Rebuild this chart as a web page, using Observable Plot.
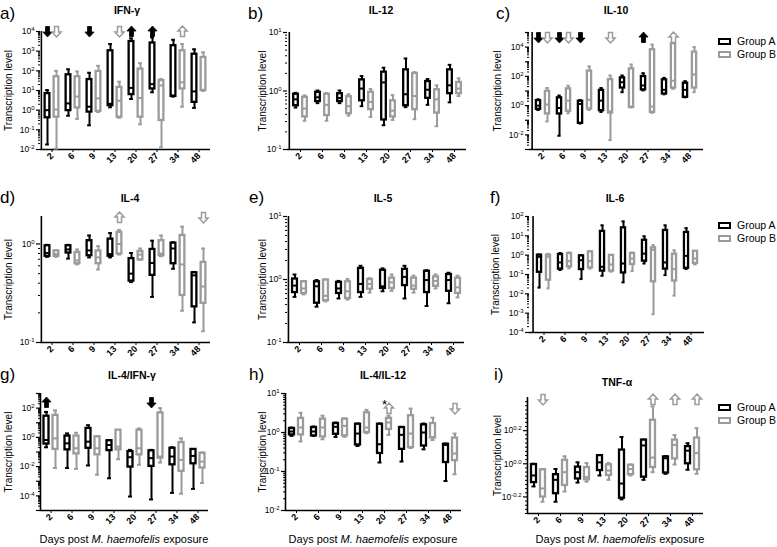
<!DOCTYPE html>
<html><head><meta charset="utf-8">
<script src="https://cdn.jsdelivr.net/npm/d3@7"></script>
<script src="https://cdn.jsdelivr.net/npm/@observablehq/plot@0.6"></script>
<style>
body{margin:0;background:#fff;}
#fig{position:relative;width:777px;height:547px;font-family:"Liberation Sans",Arial,sans-serif;overflow:hidden;background:#fff;color:#000}
#fig svg{position:absolute}
.title{position:absolute;font-weight:bold;font-size:10.5px;line-height:12px;transform:translate(-50%,-50%);white-space:nowrap}
.letter{position:absolute;font-size:17px;line-height:17px}
.leg{position:absolute;font-size:10.5px;line-height:12px;white-space:nowrap}
.leg span.sw{display:inline-block;width:9px;height:3px;border:2.5px solid #000;vertical-align:middle;margin-right:6px;position:relative;top:-1px}
.xt{position:absolute;font-size:11px;line-height:12px;transform:translate(-50%,-50%);white-space:nowrap}
</style></head>
<body><div id="fig"></div>
<script>
// ---------- data: [low whisker, Q1, median, Q3, high whisker] per day ----------
const days = [2, 6, 9, 13, 20, 27, 34, 48];

const ifngA = [[0.018,0.41,1.0,7.0,10.5],[0.52,0.95,2.2,63,120],[0.17,0.80,1.5,36,80],[1.4,1.7,2.1,1050,2300],[3.7,6.2,13.5,3100,4500],[8.1,12,21,2600,5000],[4.9,5.0,5.5,1900,3800],[1.3,2.5,9,700,1250]];
const ifngB = [[0.011,0.44,1.07,50,100],[0.36,1.3,4.9,50,93],[0.8,0.87,4.0,93,180],[0.41,0.44,3.0,14.5,28],[0.19,0.44,4.2,123,245],[0.013,0.30,18,32,38],[1.5,12,26,1050,2300],[9.5,10,10.7,480,870]];
const ifngArrows = [{day:2,group:"A",dir:"down"},{day:2,group:"B",dir:"down"},{day:9,group:"A",dir:"down"},{day:13,group:"B",dir:"down"},{day:20,group:"A",dir:"up"},{day:27,group:"A",dir:"up"},{day:34,group:"B",dir:"up"}];

const il12A = [[0.52,0.56,0.72,0.88,0.93],[0.62,0.66,0.78,0.95,1.02],[0.62,0.66,0.76,0.90,1.02],[0.55,0.68,1.1,1.55,1.8],[0.26,0.32,1.4,2.1,2.5],[0.53,0.56,0.88,2.3,3.6],[0.58,0.75,1.05,1.45,1.6],[0.64,0.90,1.25,2.3,2.8]];
const il12B = [[0.31,0.36,0.50,0.78,0.84],[0.31,0.38,0.58,0.88,0.92],[0.38,0.41,0.55,0.80,0.88],[0.36,0.48,0.65,0.95,1.08],[0.32,0.36,0.46,0.68,0.85],[0.33,0.48,0.82,2.0,2.1],[0.25,0.42,0.72,1.05,1.25],[0.82,0.90,1.1,1.4,1.65]];
const il12Arrows = [];

const il10A = [[0.5,0.56,1.0,2.2,2.7],[0.0087,0.27,0.69,3.4,4.9],[0.06,0.062,1.3,2.0,2.4],[0.37,0.45,2.2,11,16],[8.3,16,40,79,115],[11,12,24,98,165],[6.0,6.3,12,58,79],[3.7,3.7,12,34,47]];
const il10B = [[0.083,0.27,1.2,9.6,16],[0.3,0.41,2.2,14,23],[0.5,0.59,2.5,230,480],[0.0044,0.31,0.41,60,115],[0.75,0.75,0.85,330,650],[0.32,0.35,0.85,6600,15000],[14,16,50,17000,80000],[8.3,16,135,4600,10000]];
const il10Arrows = [{day:2,group:"A",dir:"down"},{day:2,group:"B",dir:"down"},{day:6,group:"A",dir:"down"},{day:6,group:"B",dir:"down"},{day:9,group:"A",dir:"down"},{day:13,group:"B",dir:"down"},{day:27,group:"A",dir:"up"},{day:34,group:"B",dir:"up"}];

const il4A = [[0.74,0.75,0.81,0.96,0.98],[0.71,0.81,0.88,0.96,0.98],[0.73,0.76,0.86,1.08,1.22],[0.73,0.75,0.79,1.12,1.29],[0.41,0.42,0.50,0.71,0.81],[0.29,0.48,0.64,0.88,1.08],[0.56,0.63,0.9,1.02,1.04],[0.16,0.23,0.48,0.51,0.52]];
const il4B = [[0.74,0.75,0.79,0.85,0.86],[0.62,0.63,0.68,0.82,0.88],[0.55,0.63,0.73,0.85,0.95],[0.78,0.79,1.0,1.31,1.39],[0.69,0.69,0.78,0.84,0.90],[0.75,0.76,0.80,1.08,1.22],[0.21,0.30,0.62,1.22,1.5],[0.13,0.25,0.37,0.65,0.90]];
const il4Arrows = [{day:13,group:"B",dir:"up"},{day:48,group:"B",dir:"down"}];

const il5A = [[0.53,0.62,0.80,1.02,1.2],[0.37,0.42,0.78,0.92,0.98],[0.50,0.60,0.72,0.90,0.95],[0.53,0.62,0.85,1.5,1.65],[0.65,0.72,0.78,1.4,1.5],[0.50,0.80,1.1,1.45,1.65],[0.38,0.62,0.98,1.35,1.4],[0.42,0.65,0.98,1.2,1.28]];
const il5B = [[0.58,0.60,0.72,0.92,0.95],[0.45,0.46,0.55,0.98,1.0],[0.48,0.50,0.65,0.92,1.02],[0.62,0.70,0.85,1.0,1.05],[0.66,0.72,0.90,1.05,1.2],[0.62,0.70,0.80,1.05,1.15],[0.72,0.78,0.95,1.10,1.2],[0.52,0.60,0.75,1.05,1.15]];
const il5Arrows = [];

const il6A = [[0.021,0.13,0.82,1.0,1.08],[0.17,0.19,0.42,1.08,1.3],[0.058,0.18,0.55,0.92,1.0],[0.086,0.15,0.25,17,35],[0.039,0.12,0.37,26,56],[0.37,0.49,1.2,5.9,9.5],[0.093,0.19,0.42,19,35],[0.19,0.21,0.92,15,25]];
const il6B = [[0.019,0.051,0.82,1.0,1.17],[0.21,0.25,0.49,1.22,1.37],[0.2,0.22,0.49,1.48,1.6],[0.14,0.15,0.33,0.98,1.0],[0.15,0.33,0.67,1.22,1.37],[0.00088,0.042,1.9,2.4,3.3],[0.0081,0.046,0.19,1.13,1.8],[0.33,0.37,0.67,1.6,1.6]];
const il6Arrows = [];

const ratioIfnA = [[0.21,0.35,0.66,28,55],[0.008,0.14,0.39,1.23,1.86],[0.012,0.18,0.51,4.1,6.8],[0.0016,0.125,0.3,0.59,0.66],[0.00009,0.0093,0.044,0.107,0.14],[0.000057,0.0104,0.038,0.12,0.14],[0.00016,0.0133,0.049,0.18,0.21],[0.0003,0.0156,0.054,0.15,0.15]];
const ratioIfnB = [[0.008,0.15,0.85,32,70],[0.007,0.074,0.18,1.23,2.07],[0.0028,0.064,0.18,1.1,1.23],[0.032,0.14,0.23,3.1,3.1],[0.0134,0.064,0.18,3.1,4.1],[0.019,0.038,0.049,47,100],[0.00014,0.0048,0.029,0.44,0.86],[0.00076,0.008,0.022,0.082,0.092]];
const ratioIfnArrows = [{day:2,group:"A",dir:"up"},{day:27,group:"A",dir:"down"}];

const ratioIl12A = [[0.82,0.87,1.06,1.27,1.34],[0.82,0.82,1.06,1.34,1.43],[0.77,0.9,1.4,1.7,1.8],[0.45,0.48,0.94,1.63,1.7],[0.17,0.29,0.50,1.63,1.7],[0.18,0.37,0.87,1.34,1.4],[0.37,0.45,1.0,1.57,1.7],[0.057,0.17,0.48,0.50,0.52]];
const ratioIl12B = [[0.59,0.87,1.34,2.3,3.2],[0.67,0.77,1.34,2.2,2.7],[0.77,0.82,1.48,2.2,2.3],[0.96,1.0,1.34,3.2,3.8],[0.87,1.2,1.8,2.3,2.7],[0.40,0.41,0.94,2.7,4.1],[0.64,0.72,0.77,1.7,2.4],[0.085,0.19,0.29,0.72,0.94]];
const ratioIl12Arrows = [{day:20,group:"B",dir:"up"},{day:48,group:"B",dir:"down"}];
const ratioIl12Stars = [{day:20}];

const tnfA = [[0.73,0.77,0.85,0.99,1.0],[0.59,0.66,0.80,0.86,0.93],[0.77,0.81,0.89,0.955,1.02],[0.85,0.91,1.02,1.12,1.13],[0.61,0.62,0.76,1.21,1.45],[0.80,0.83,1.29,1.39,1.40],[0.87,0.88,1.08,1.10,1.11],[0.92,1.0,1.2,1.27,1.33]];
const tnfB = [[0.59,0.63,0.71,0.92,0.93],[0.68,0.74,0.89,1.05,1.11],[0.78,0.80,0.83,0.95,1.01],[0.80,0.85,0.91,0.985,1.01],[0.85,0.86,0.93,0.98,0.99],[0.89,0.95,1.09,1.83,2.22],[0.99,1.07,1.30,1.39,1.49],[0.87,0.92,1.16,1.43,1.64]];
const tnfArrows = [{day:2,group:"B",dir:"down"},{day:27,group:"B",dir:"up"},{day:34,group:"B",dir:"up"},{day:48,group:"B",dir:"up"}];

// y tick exponents (all ticks) and labelled exponents
const ticksA = [-2,-1,0,1,2,3,4], labelsA = [-2,-1,0,1,2,3,4];
const ticksB = [-1,0,1], labelsB = [-1,0,1];
const ticksC = [-3,-2,-1,0,1,2,3,4,5], labelsC = [-2,0,2,4];
const ticksD = [-1,0], labelsD = [-1,0];
const ticksE = [-1,0,1], labelsE = [-1,0,1];
const ticksF = [-4,-3,-2,-1,0,1,2], labelsF = [-4,-3,-2,-1,0,1,2];
const ticksG = [-5,-4,-3,-2,-1,0,1,2,3], labelsG = [-4,-2,0,2];
const ticksH = [-2,-1,0,1], labelsH = [-2,-1,0,1];
const ticksI = [-0.2,0,0.2], labelsI = [-0.2,0,0.2];

const titles = ["IFN-γ","IL-12","IL-10","IL-4","IL-5","IL-6","IL-4/IFN-γ","IL-4/IL-12","TNF-α"];
const letters = ["a)","b)","c)","d)","e)","f)","g)","h)","i)"];
const groups = ["Group A","Group B"];
const yLabel = "Transcription level";

// ---------- layout ----------
const BLACK = "#000", GRAY = "#9b9b9b";
const layout = [
 {A:ifngA,B:ifngB,arr:ifngArrows,t:ticksA,l:labelsA,dom:[1e-2,1e4],x0:40,x1:210,y0:31,y1:149,ady:0,ylx:-32,lx:0,ly:14,tx:127,ty:10},
 {A:il12A,B:il12B,arr:il12Arrows,t:ticksB,l:labelsB,dom:[0.1,10],x0:287,x1:466,y0:32,y1:149,ady:0,ylx:-25,lx:248,ly:14,tx:381,ty:10},
 {A:il10A,B:il10B,arr:il10Arrows,t:ticksC,l:labelsC,dom:[1e-3,1e5],x0:529,x1:703,y0:32,y1:149,ady:5,ylx:-32,lx:496,ly:14,tx:616,ty:10,leg:41},
 {A:il4A,B:il4B,arr:il4Arrows,t:ticksD,l:labelsD,dom:[0.1,1.9],x0:40,x1:210,y0:216,y1:342,ady:1,ylx:-32,lx:0,ly:198,tx:130,ty:198},
 {A:il5A,B:il5B,arr:il5Arrows,t:ticksE,l:labelsE,dom:[0.1,10],x0:287,x1:464,y0:216,y1:342,ady:0,ylx:-25,lx:249,ly:198,tx:383,ty:198},
 {A:il6A,B:il6B,arr:il6Arrows,t:ticksF,l:labelsF,dom:[1e-4,1e2],x0:529,x1:704,y0:216,y1:332,ady:0,ylx:-34,lx:490,ly:198,tx:615,ty:198,leg:225},
 {A:ratioIfnA,B:ratioIfnB,arr:ratioIfnArrows,t:ticksG,l:labelsG,dom:[1e-5,1e3],x0:40,x1:208,y0:393,y1:510,ady:9,ylx:-32,lx:0,ly:375,tx:132,ty:375,xt:124},
 {A:ratioIl12A,B:ratioIl12B,arr:ratioIl12Arrows,star:ratioIl12Stars,t:ticksH,l:labelsH,dom:[1e-2,1e1],x0:285,x1:461,y0:393,y1:510,ady:15,ylx:-23,lx:249,ly:375,tx:383,ty:375,xt:373},
 {A:tnfA,B:tnfB,arr:tnfArrows,t:ticksI,l:labelsI,dom:[Math.pow(10,-0.3),Math.pow(10,0.4)],x0:527,x1:703,y0:397,y1:513,ady:2,ylx:-30,lx:494,ly:375,tx:617,ty:382,leg:407,xt:620,frac:true}
];

// arrow symbols
const arrowUp = {draw(c){c.moveTo(0,-5.5);c.lineTo(4.6,-0.5);c.lineTo(2,-0.5);c.lineTo(2,5);c.lineTo(-2,5);c.lineTo(-2,-0.5);c.lineTo(-4.6,-0.5);c.closePath();}};
const arrowDown = {draw(c){c.moveTo(0,5.5);c.lineTo(4.6,0.5);c.lineTo(2,0.5);c.lineTo(2,-5);c.lineTo(-2,-5);c.lineTo(-2,0.5);c.lineTo(-4.6,0.5);c.closePath();}};

function minorTicks(dom, frac){
  const out=[];
  if(frac){
    for(let e=-30;e<=40;e+=2.5){const ex=e/100; if(Math.abs(ex*10-Math.round(ex*10))<1e-9 && Math.round(ex*10)%2===0) continue; out.push(Math.pow(10,ex));}
    return out;
  }
  const lo=Math.floor(Math.log10(dom[0])), hi=Math.ceil(Math.log10(dom[1]));
  for(let k=lo;k<hi;k++) for(let m=2;m<=9;m++){const v=m*Math.pow(10,k); if(v>dom[0]*1.0001&&v<dom[1]*0.9999) out.push(v);}
  return out;
}

const fig = document.getElementById("fig");
const ML=45, MT=25, MR=5, MB=25;

function rowsOf(arr){ return days.map((day,i)=>({day, lo:arr[i][0], q1:arr[i][1], med:arr[i][2], q3:arr[i][3], hi:arr[i][4]})); }

function boxMarks(rows, color, dx, bw){
  const bi=(bw-5)/2, ci=(bw-4)/2;
  return [
    Plot.ruleX(rows,{x:"day",y1:"lo",y2:"hi",stroke:color,strokeWidth:2,dx}),
    Plot.tickY(rows,{x:"day",y:"lo",stroke:color,strokeWidth:2,insetLeft:ci,insetRight:ci,dx}),
    Plot.tickY(rows,{x:"day",y:"hi",stroke:color,strokeWidth:2,insetLeft:ci,insetRight:ci,dx}),
    Plot.barY(rows,{x:"day",y1:"q1",y2:"q3",fill:"white",stroke:color,strokeWidth:2.3,insetLeft:bi,insetRight:bi,dx}),
    Plot.tickY(rows,{x:"day",y:"med",stroke:color,strokeWidth:2,insetLeft:bi,insetRight:bi,dx})
  ];
}

layout.forEach((p,idx)=>{
  const w = p.x1-p.x0, h = p.y1-p.y0;
  const bw = w/days.length;
  const OFF = 4.5;
  const majors = p.t.map(e=>Math.pow(10,e));
  const lab = new Set(p.l.map(e=>Math.round(e*10)));
  const marks = [
    Plot.axisY({ticks: minorTicks(p.dom, p.frac), tickSize:2, tickFormat:()=>"", label:null, strokeWidth:1}),
    Plot.axisY({ticks: majors, tickSize:4, tickPadding:2, label:null, fontSize:8.5, strokeWidth:1.2,
      tickFormat: v => { const e = Math.round(Math.log10(v)*10)/10; if(!lab.has(Math.round(e*10))) return ""; return "10^" + (p.frac ? e.toFixed(1) : String(e)); }}),
    Plot.axisX({tickRotate:-45, tickSize:3, tickPadding:2, label:null, fontSize:9, fontWeight:"bold"}),
    Plot.ruleY([p.dom[0]],{stroke:BLACK,strokeWidth:1.6}),
    Plot.ruleX([days[0]],{dx:-bw/2,stroke:BLACK,strokeWidth:1.6}),
    Plot.text([yLabel],{text:d=>d,frameAnchor:"left",textAnchor:"middle",rotate:-90,dx:p.ylx,fontSize:10}),
    ...boxMarks(rowsOf(p.A), BLACK, -OFF, bw),
    ...boxMarks(rowsOf(p.B), GRAY, OFF, bw)
  ];
  const arrowSets = [["A","up",arrowUp],["A","down",arrowDown],["B","up",arrowUp],["B","down",arrowDown]];
  for(const [g,dir,sym] of arrowSets){
    const d = p.arr.filter(a=>a.group===g && a.dir===dir);
    if(!d.length) continue;
    marks.push(Plot.dot(d,{x:"day",frameAnchor:"top",dy:p.ady,dx:g==="A"?-OFF:OFF,symbol:sym,r:5,
      fill:g==="A"?BLACK:"white",stroke:g==="A"?BLACK:GRAY,strokeWidth:g==="A"?0.8:1.5}));
  }
  if(p.star) marks.push(Plot.text(p.star,{x:"day",text:()=>"*",frameAnchor:"top",dy:6,fontSize:13}));

  const svg = Plot.plot({
    width: ML+w+MR, height: MT+h+MB,
    marginLeft:ML, marginTop:MT, marginRight:MR, marginBottom:MB,
    x:{type:"band",domain:days,padding:0,axis:null,label:null},
    y:{type:"log",domain:p.dom,axis:null,label:null},
    style:{background:"transparent",overflow:"visible",fontFamily:"Liberation Sans, Arial, sans-serif",fontSize:"8px",color:"#000"},
    marks
  });
  svg.style.left = (p.x0-ML)+"px";
  svg.style.top = (p.y0-MT)+"px";
  svg.style.maxWidth = "none";
  // superscript exponents
  d3.select(svg).selectAll('g[aria-label="y-axis tick label"] text').each(function(){
    const t = this.textContent;
    if(t.startsWith("10^")){
      const ex = t.slice(3);
      this.textContent = "10";
      d3.select(this).append("tspan").attr("dy","-0.5em").attr("font-size","6px").text(ex);
    }
  });
  fig.appendChild(svg);

  const ti = document.createElement("div"); ti.className="title"; ti.textContent=titles[idx];
  ti.style.left=p.tx+"px"; ti.style.top=p.ty+"px"; fig.appendChild(ti);
  const le = document.createElement("div"); le.className="letter"; le.textContent=letters[idx];
  le.style.left=p.lx+"px"; le.style.top=(p.ly-9)+"px"; fig.appendChild(le);
  if(p.leg){
    groups.forEach((g,k)=>{
      const d=document.createElement("div"); d.className="leg";
      d.style.left="718px"; d.style.top=(p.leg+k*13-6)+"px";
      d.innerHTML='<span class="sw" style="border-color:'+(k?GRAY:BLACK)+'"></span>'+g;
      fig.appendChild(d);
    });
  }
  if(p.xt){
    const x=document.createElement("div"); x.className="xt";
    x.innerHTML='Days post <i>M. haemofelis</i> exposure';
    x.style.left=p.xt+"px"; x.style.top="539px"; fig.appendChild(x);
  }
});
</script></body></html>
